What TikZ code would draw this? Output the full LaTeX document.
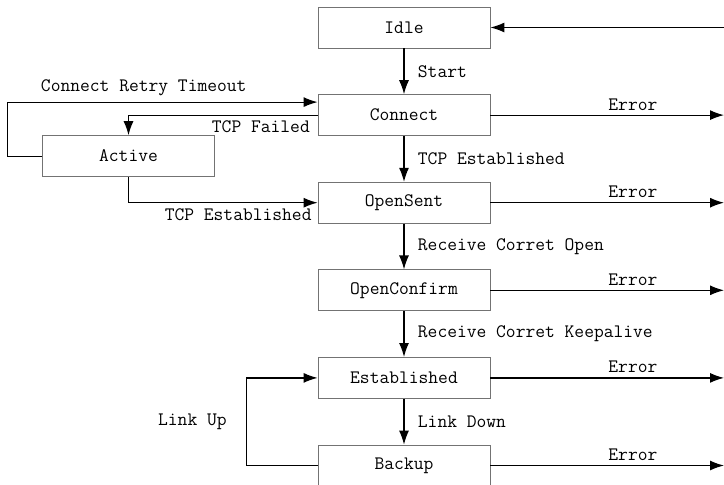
\documentclass[tikz,border=0pt]{standalone}
\usetikzlibrary{positioning,arrows.meta}

\begin{document}
\begin{tikzpicture}[x=1pt,y=-1pt,node distance=87.6pt,on grid,
  font=\fontsize{19}{21}\selectfont\ttfamily,
  >={Latex[length=14pt,width=10pt]},line width=1.2pt,
  stbox/.style={draw=black!55,line width=0.8pt,fill=white,minimum width=172pt,minimum height=41pt,inner sep=0pt},
  lbl/.style={anchor=west,xshift=10pt},
  err/.style={above=1pt,pos=0.61}]
\useasboundingbox (0,0) rectangle (724,485);
\coordinate (rim) at (724,0);
\node[stbox] (idle) at (404,27.5) {Idle};
\node[stbox] (connect) [below=of idle] {Connect};
\node[stbox] (opensent) [below=of connect] {OpenSent};
\node[stbox] (openconfirm) [below=of opensent] {OpenConfirm};
\node[stbox] (established) [below=of openconfirm] {Established};
\node[stbox] (backup) [below=of established] {Backup};
\node[stbox] (active) [below left=41pt and 275.5pt of connect] {Active};
\path[->]
(idle) edge node[lbl] {Start} (connect)
(connect) edge node[lbl] {TCP Established} (opensent)
(opensent) edge node[lbl] {Receive Corret Open} (openconfirm)
(openconfirm) edge node[lbl] {Receive Corret Keepalive} (established)
(established) edge node[lbl] {Link Down} (backup);
% errors go out to the right, back into idle
\path[->]
(idle.east -| rim) edge (idle.east)
(connect.east) edge node[err] {Error} (connect.east -| rim)
(opensent.east) edge node[err] {Error} (opensent.east -| rim)
(openconfirm.east) edge node[err] {Error} (openconfirm.east -| rim)
(established.east) edge node[err] {Error} (established.east -| rim)
(backup.east) edge node[err] {Error} (backup.east -| rim);
% loops on the left
\draw[->] (active.west) -- ++(-35,0) |- node[pos=0.72,above=2pt] {Connect Retry Timeout} ([yshift=13pt]connect.west);
\draw[->] (connect.west) -| node[pos=0.15,below=2pt] {TCP Failed} (active.north);
\draw[->] (active.south) |- node[pos=0.79,below=2pt] {TCP Established} (opensent.west);
\draw[->] (backup.west) -- ++(-71,0) |- node[pos=0.25,left=16pt] {Link Up} (established.west);
\end{tikzpicture}
\end{document}
